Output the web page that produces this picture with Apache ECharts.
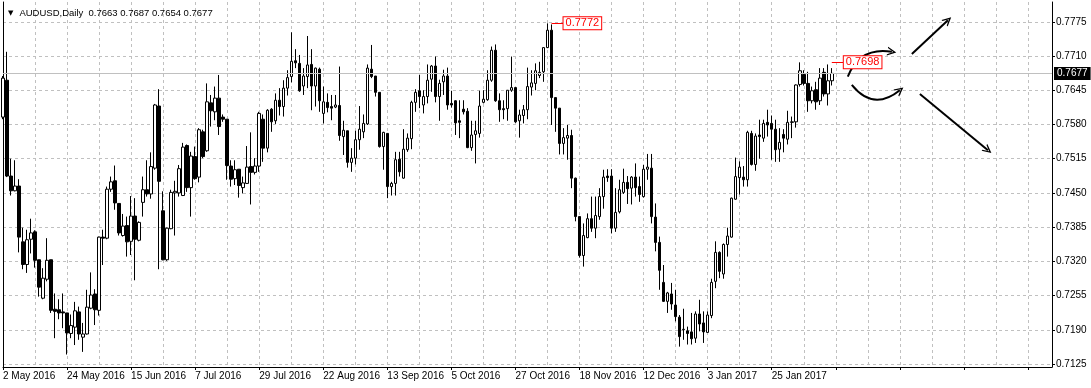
<!DOCTYPE html>
<html><head><meta charset="utf-8">
<script src="https://cdn.jsdelivr.net/npm/echarts@6/dist/echarts.min.js"></script>
<style>html,body{margin:0;padding:0;background:#fff;overflow:hidden}#c{width:1091px;height:388px}</style>
</head><body><div id="c"></div><script>
// Daily AUDUSD candles: [open, high, low, close]
const candles = [
[0.7594,0.7672,0.7590,0.7668],[0.7664,0.7718,0.7480,0.7482],[0.7482,0.7515,0.7445,0.7454],[0.7454,0.7512,0.7453,0.7463],
[0.7463,0.7476,0.7337,0.7366],[0.7357,0.7384,0.7305,0.7314],[0.7314,0.7380,0.7298,0.7361],[0.7362,0.7401,0.7335,0.7374],
[0.7376,0.7379,0.7308,0.7322],[0.7323,0.7323,0.7253,0.7271],[0.7250,0.7307,0.7248,0.7288],[0.7286,0.7364,0.7282,0.7322],
[0.7323,0.7323,0.7222,0.7227],[0.7229,0.7259,0.7174,0.7225],[0.7228,0.7248,0.7210,0.7222],[0.7224,0.7259,0.7193,0.7222],
[0.7222,0.7222,0.7143,0.7184],[0.7183,0.7219,0.7174,0.7198],[0.7195,0.7243,0.7161,0.7226],[0.7224,0.7234,0.7171,0.7182],
[0.7176,0.7203,0.7148,0.7182],[0.7182,0.7266,0.7181,0.7233],[0.7231,0.7299,0.7229,0.7256],[0.7258,0.7267,0.7199,0.7228],
[0.7227,0.7367,0.7217,0.7366],[0.7366,0.7380,0.7313,0.7364],[0.7364,0.7462,0.7362,0.7457],[0.7457,0.7481,0.7452,0.7471],
[0.7473,0.7502,0.7418,0.7431],[0.7430,0.7430,0.7369,0.7374],[0.7369,0.7410,0.7367,0.7387],[0.7388,0.7405,0.7329,0.7357],
[0.7358,0.7444,0.7332,0.7406],[0.7406,0.7440,0.7284,0.7362],[0.7360,0.7396,0.7358,0.7394],[0.7432,0.7481,0.7405,0.7456],
[0.7456,0.7512,0.7443,0.7448],[0.7448,0.7527,0.7439,0.7500],[0.7497,0.7619,0.7494,0.7617],[0.7615,0.7647,0.7305,0.7472],
[0.7416,0.7453,0.7322,0.7323],[0.7323,0.7384,0.7321,0.7383],[0.7382,0.7456,0.7381,0.7451],[0.7450,0.7473,0.7369,0.7453],
[0.7450,0.7503,0.7443,0.7496],[0.7445,0.7545,0.7444,0.7537],[0.7540,0.7542,0.7452,0.7460],[0.7460,0.7528,0.7405,0.7520],
[0.7519,0.7538,0.7475,0.7477],[0.7480,0.7573,0.7470,0.7570],[0.7566,0.7570,0.7516,0.7519],[0.7530,0.7658,0.7528,0.7623],
[0.7621,0.7636,0.7576,0.7606],[0.7604,0.7652,0.7588,0.7630],[0.7630,0.7674,0.7560,0.7576],[0.7594,0.7599,0.7585,0.7590],
[0.7590,0.7590,0.7475,0.7502],[0.7501,0.7512,0.7462,0.7476],[0.7477,0.7512,0.7465,0.7494],[0.7495,0.7495,0.7441,0.7464],
[0.7460,0.7481,0.7449,0.7469],[0.7468,0.7539,0.7467,0.7499],[0.7500,0.7565,0.7428,0.7489],[0.7489,0.7516,0.7485,0.7501],
[0.7501,0.7604,0.7490,0.7601],[0.7590,0.7599,0.7509,0.7535],[0.7535,0.7609,0.7527,0.7607],[0.7609,0.7611,0.7566,0.7585],
[0.7587,0.7639,0.7581,0.7626],[0.7626,0.7649,0.7597,0.7614],[0.7614,0.7664,0.7595,0.7649],[0.7649,0.7683,0.7635,0.7669],
[0.7671,0.7755,0.7660,0.7700],[0.7701,0.7723,0.7687,0.7697],[0.7696,0.7712,0.7642,0.7644],[0.7653,0.7687,0.7636,0.7672],
[0.7671,0.7748,0.7649,0.7693],[0.7694,0.7723,0.7607,0.7653],[0.7653,0.7688,0.7614,0.7687],[0.7685,0.7688,0.7604,0.7625],
[0.7601,0.7652,0.7582,0.7623],[0.7622,0.7639,0.7603,0.7612],[0.7614,0.7636,0.7588,0.7611],[0.7613,0.7636,0.7611,0.7617],
[0.7616,0.7690,0.7549,0.7559],[0.7557,0.7587,0.7522,0.7569],[0.7568,0.7568,0.7498,0.7508],[0.7508,0.7535,0.7490,0.7516],
[0.7516,0.7568,0.7504,0.7551],[0.7551,0.7615,0.7532,0.7571],[0.7566,0.7599,0.7554,0.7582],[0.7581,0.7694,0.7579,0.7687],
[0.7685,0.7731,0.7668,0.7671],[0.7672,0.7672,0.7633,0.7641],[0.7641,0.7641,0.7536,0.7538],[0.7538,0.7566,0.7494,0.7565],
[0.7563,0.7563,0.7440,0.7462],[0.7462,0.7471,0.7445,0.7468],[0.7468,0.7528,0.7445,0.7513],[0.7514,0.7528,0.7481,0.7490],
[0.7478,0.7571,0.7477,0.7533],[0.7532,0.7563,0.7528,0.7554],[0.7553,0.7625,0.7533,0.7622],[0.7622,0.7647,0.7604,0.7641],
[0.7644,0.7674,0.7611,0.7633],[0.7617,0.7645,0.7601,0.7633],[0.7633,0.7694,0.7620,0.7664],[0.7666,0.7693,0.7642,0.7691],
[0.7691,0.7709,0.7622,0.7633],[0.7633,0.7665,0.7587,0.7658],[0.7661,0.7684,0.7636,0.7672],[0.7672,0.7688,0.7608,0.7617],
[0.7620,0.7644,0.7612,0.7617],[0.7625,0.7626,0.7560,0.7583],[0.7587,0.7626,0.7554,0.7584],[0.7609,0.7626,0.7599,0.7604],
[0.7605,0.7611,0.7535,0.7536],[0.7536,0.7587,0.7530,0.7560],[0.7561,0.7587,0.7506,0.7568],[0.7563,0.7644,0.7555,0.7615],
[0.7622,0.7645,0.7620,0.7628],[0.7627,0.7683,0.7625,0.7664],[0.7664,0.7728,0.7661,0.7721],[0.7721,0.7732,0.7623,0.7625],
[0.7625,0.7639,0.7585,0.7608],[0.7610,0.7626,0.7590,0.7608],[0.7610,0.7645,0.7587,0.7645],[0.7645,0.7709,0.7642,0.7650],
[0.7650,0.7650,0.7583,0.7585],[0.7587,0.7608,0.7555,0.7598],[0.7597,0.7617,0.7582,0.7608],[0.7608,0.7688,0.7590,0.7652],
[0.7651,0.7683,0.7635,0.7659],[0.7658,0.7696,0.7645,0.7682],[0.7673,0.7699,0.7668,0.7679],[0.7680,0.7726,0.7661,0.7726],
[0.7726,0.7772,0.7725,0.7759],[0.7759,0.7770,0.7579,0.7631],[0.7631,0.7631,0.7566,0.7611],[0.7611,0.7611,0.7523,0.7544],
[0.7544,0.7573,0.7523,0.7555],[0.7554,0.7579,0.7513,0.7559],[0.7559,0.7570,0.7459,0.7478],[0.7478,0.7479,0.7396,0.7405],
[0.7405,0.7405,0.7327,0.7331],[0.7331,0.7392,0.7310,0.7369],[0.7365,0.7411,0.7364,0.7401],[0.7401,0.7443,0.7376,0.7383],
[0.7383,0.7443,0.7364,0.7407],[0.7405,0.7459,0.7399,0.7443],[0.7443,0.7494,0.7420,0.7480],[0.7482,0.7495,0.7471,0.7479],
[0.7482,0.7495,0.7373,0.7383],[0.7383,0.7459,0.7376,0.7413],[0.7414,0.7475,0.7411,0.7456],[0.7451,0.7496,0.7448,0.7470],
[0.7470,0.7482,0.7429,0.7458],[0.7459,0.7482,0.7428,0.7480],[0.7480,0.7506,0.7443,0.7460],[0.7462,0.7481,0.7433,0.7447],
[0.7443,0.7503,0.7441,0.7495],[0.7495,0.7524,0.7475,0.7499],[0.7497,0.7524,0.7392,0.7405],[0.7404,0.7430,0.7339,0.7356],
[0.7356,0.7367,0.7266,0.7303],[0.7280,0.7313,0.7243,0.7244],[0.7244,0.7262,0.7222,0.7260],[0.7258,0.7279,0.7228,0.7239],
[0.7237,0.7266,0.7206,0.7215],[0.7214,0.7218,0.7158,0.7177],[0.7190,0.7230,0.7171,0.7191],[0.7188,0.7196,0.7162,0.7183],
[0.7186,0.7222,0.7162,0.7173],[0.7174,0.7225,0.7165,0.7220],[0.7220,0.7247,0.7187,0.7201],[0.7203,0.7225,0.7165,0.7186],
[0.7185,0.7225,0.7184,0.7218],[0.7217,0.7287,0.7212,0.7280],[0.7282,0.7358,0.7269,0.7337],[0.7337,0.7339,0.7288,0.7301],
[0.7296,0.7354,0.7287,0.7352],[0.7352,0.7384,0.7329,0.7368],[0.7366,0.7441,0.7365,0.7440],[0.7438,0.7517,0.7437,0.7481],
[0.7479,0.7510,0.7447,0.7499],[0.7480,0.7501,0.7462,0.7475],[0.7475,0.7568,0.7462,0.7565],[0.7563,0.7568,0.7502,0.7504],
[0.7504,0.7563,0.7492,0.7558],[0.7560,0.7589,0.7515,0.7557],[0.7554,0.7589,0.7547,0.7582],[0.7584,0.7608,0.7557,0.7579],
[0.7582,0.7597,0.7513,0.7571],[0.7571,0.7589,0.7509,0.7532],[0.7533,0.7573,0.7509,0.7546],[0.7561,0.7571,0.7527,0.7554],
[0.7552,0.7606,0.7542,0.7584],[0.7584,0.7595,0.7554,0.7585],[0.7585,0.7656,0.7574,0.7655],[0.7656,0.7698,0.7652,0.7682],
[0.7675,0.7683,0.7654,0.7658],[0.7658,0.7680,0.7604,0.7625],[0.7625,0.7652,0.7620,0.7644],[0.7646,0.7661,0.7608,0.7623],
[0.7625,0.7687,0.7617,0.7668],[0.7679,0.7687,0.7633,0.7638],[0.7638,0.7694,0.7616,0.7663],[0.7663,0.7687,0.7654,0.7677]
];
const firstDay = '2016-05-02';
const slotCount = 263; // bars + empty right shift area
const tickLabels = ['2 May 2016','24 May 2016','15 Jun 2016','7 Jul 2016','29 Jul 2016','22 Aug 2016','13 Sep 2016',
  '5 Oct 2016','27 Oct 2016','18 Nov 2016','12 Dec 2016','3 Jan 2017','25 Jan 2017'];
const yTicks = [0.7125,0.7190,0.7255,0.7320,0.7385,0.7450,0.7515,0.7580,0.7645,0.7710,0.7775];
const symbolName = 'AUDUSD,Daily';
const priceLabels = [{bar:137, price:0.7772}, {bar:207, price:0.7698}];
// hand-drawn scenario arrows: [bar, price] start/end, curveness
const arrows = [
  {from:[211,0.7671], to:[222,0.7718], curve:0.4},
  {from:[212,0.7655], to:[224,0.7645], curve:-0.5},
  {from:[227,0.7714], to:[236,0.7778], curve:0},
  {from:[229,0.7638], to:[246,0.7531], curve:0}
];

const categories = [];
let d = new Date(firstDay + 'T00:00:00Z');
while (categories.length < slotCount) {
  const wd = d.getUTCDay();
  if (wd > 0 && wd < 6) categories.push(d.toISOString().slice(0,10));
  d = new Date(d.getTime() + 86400000);
}
const last = candles[candles.length - 1];
const lastPrice = last[3];
const FONT = 'Liberation Sans';
const chev = 'path://M0,10 L6,0 L12,10 L10.2,10 L6,3.4 L1.8,10 Z';

const markData = [];
priceLabels.forEach(p => {
  markData.push([
    {coord:[p.bar, p.price], symbol:'none', lineStyle:{color:'#ff0000', width:1, type:'solid'},
     label:{show:true, position:'end', formatter: p.price.toFixed(4), color:'#ff0000', backgroundColor:'#ffffff',
            borderColor:'#ff0000', borderWidth:1, padding:[1,2,0,2], fontFamily:FONT, fontSize:11, distance:0}},
    {coord:[p.bar + 2.5, p.price], symbol:'none'}
  ]);
});

const chart = echarts.init(document.getElementById('c'), null, {renderer:'canvas'});
chart.setOption({
  animation:false,
  backgroundColor:'#ffffff',
  title:{
    left:3, top:3,
    text:'{t|▼}' + symbolName + '  ' + [last[0],last[1],last[2],last[3]].map(v=>v.toFixed(4)).join(' '),
    textStyle:{fontFamily:FONT, fontSize:9.5, fontWeight:'normal', color:'#000',
      rich:{t:{fontSize:7, color:'#000', fontFamily:'DejaVu Sans', padding:[0,6,0,0]}}}
  },
  grid:{left:3, right:39, top:2, bottom:21, containLabel:false},
  xAxis:{
    type:'category', data:categories, boundaryGap:false,
    axisLine:{show:true, lineStyle:{color:'#000', width:1}},
    axisTick:{show:true, interval:15, length:3, lineStyle:{color:'#000'}},
    axisLabel:{show:true, interval:15, align:'left', margin:4, color:'#000', fontFamily:FONT, fontSize:10,
      formatter:(v, idx) => (idx % 16 === 0 && idx/16 < tickLabels.length) ? tickLabels[idx/16] : ''},
    splitLine:{show:true, interval:7, lineStyle:{color:'#c0c0c0', type:[3,3], width:1}}
  },
  yAxis:[{
    type:'value', position:'right', min:0.71193, max:0.78126, scale:true,
    axisLine:{show:true, lineStyle:{color:'#000', width:1}},
    axisTick:{show:true, length:3, customValues:yTicks, lineStyle:{color:'#000'}},
    axisLabel:{show:true, customValues:yTicks, margin:4, color:'#000', fontFamily:FONT, fontSize:10,
      formatter:v => v.toFixed(4)},
    splitLine:{show:true, lineStyle:{color:'#c0c0c0', type:[3,3], width:1}}
  },{
    type:'value', position:'left', min:0.71193, max:0.78126,
    axisLine:{show:true, lineStyle:{color:'#000', width:1}},
    axisTick:{show:false}, axisLabel:{show:false}, splitLine:{show:false}
  }],
  series:[{
    type:'candlestick',
    data:candles.map(c => [c[0], c[3], c[2], c[1]]),
    barWidth:3,
    itemStyle:{color:'#ffffff', color0:'#000000', borderColor:'#000000', borderColor0:'#000000', borderWidth:1},
    markLine:{
      silent:true, symbol:['none','none'], animation:false, precision:4,
      data:[
        {yAxis:lastPrice, symbol:'none', lineStyle:{color:'#c0c0c0', width:1, type:'solid'},
         label:{show:true, position:'end', formatter:lastPrice.toFixed(4), color:'#ffffff', backgroundColor:'#000000',
                padding:[2,3,1,3], fontFamily:FONT, fontSize:10, distance:2}}
      ].concat(markData)
    }
  },{
    type:'lines', coordinateSystem:'cartesian2d', xAxisIndex:0, yAxisIndex:0,
    silent:true, z:5, symbol:['none', chev], symbolSize:[11,9],
    lineStyle:{color:'#000', width:2, opacity:1},
    data:arrows.map(a => ({coords:[a.from, a.to], lineStyle:{curveness:a.curve}}))
  }]
});
</script></body></html>
